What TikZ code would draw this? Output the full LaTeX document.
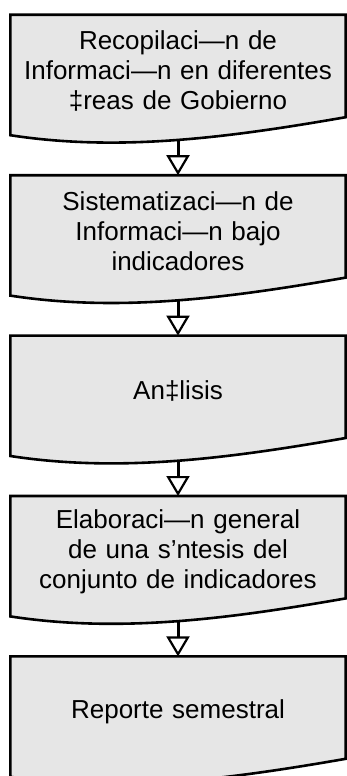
\documentclass[tikz,border=0pt]{standalone}
\usepackage{fontspec}
\setmainfont{Liberation Sans}
\usetikzlibrary{arrows.meta,positioning,calc,backgrounds}
\definecolor{boxgray}{RGB}{230,230,230}

\begin{document}
\begin{tikzpicture}[
        x=1pt, y=1pt,
        node distance=40pt,
        docbox/.style={rectangle, minimum width=335pt, minimum height=120pt, text width=333pt, align=center, inner sep=0pt, font=\fontsize{26}{30}\selectfont},
        docline/.style={draw=black, line width=2.6pt, fill=boxgray},
        arrow/.style={line width=3pt, -{Triangle[open, width=23pt, length=20pt, line width=2.2pt]}, shorten <=5pt}
    ]
    \useasboundingbox (0,0) rectangle (346,-776);

    % --- Etapas del proceso ---
    \node (recop) [docbox] at (178,-75) {Recopilaci—n de \\ Informaci—n en diferentes \\ ‡reas de Gobierno\vspace{9pt}};
    \node (sist) [below=of recop, docbox] {Sistematizaci—n de \\ Informaci—n bajo \\ indicadores\vspace{9pt}};
    \node (anal) [below=of sist, docbox] {An‡lisis\vspace{9pt}};
    \node (elab) [below=of anal, docbox] {Elaboraci—n general \\ de una s’ntesis del \\ conjunto de indicadores\vspace{9pt}};
    \node (rep) [below=of elab, docbox] {Reporte semestral\vspace{9pt}};

    % --- Contorno tipo documento (borde inferior ondulado) ---
    \begin{scope}[on background layer]
    \foreach \n in {recop,sist,anal,elab,rep}
        \draw[docline] (\n.north west) -- (\n.south west)
            .. controls ($(\n.south west)+(110,-17)$) and ($(\n.south east)+(-115,-2)$) .. ($(\n.south east)+(0,18)$)
            -- (\n.north east) -- cycle;
    \end{scope}

    % --- Flechas ---
    \draw[arrow] (recop.south) -- (sist.north);
    \draw[arrow] (sist.south) -- (anal.north);
    \draw[arrow] (anal.south) -- (elab.north);
    \draw[arrow] (elab.south) -- (rep.north);

\end{tikzpicture}
\end{document}
